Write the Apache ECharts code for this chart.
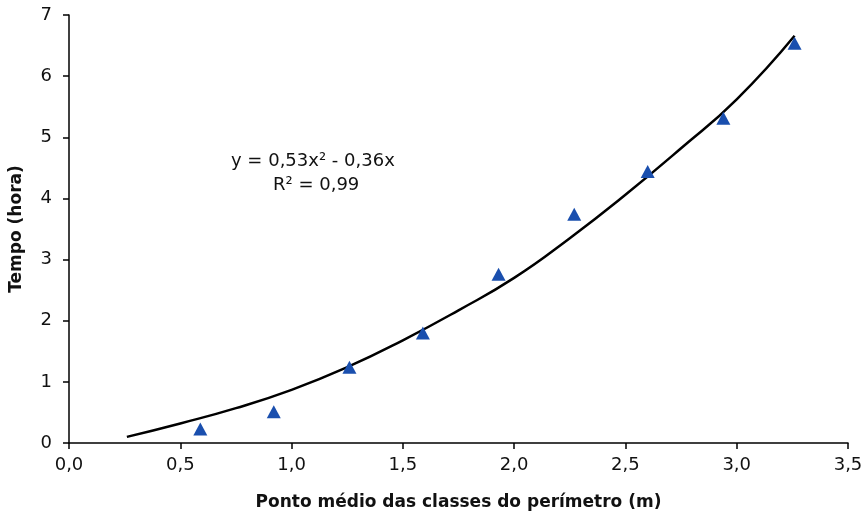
<!DOCTYPE html>
<html>
<head>
<meta charset="utf-8">
<script src="https://cdn.jsdelivr.net/npm/echarts@6/dist/echarts.min.js"></script>
<style>
  html, body { margin: 0; padding: 0; background: #fff; }
  #chart { width: 863px; height: 514px; }
</style>
</head>
<body>
<div id="chart"></div>
<script>
// observed points (ponto médio, tempo)
const pointX = [0.59, 0.92, 1.26, 1.59, 1.93, 2.27, 2.60, 2.94, 3.26];
const pointY = [0.23, 0.51, 1.24, 1.80, 2.76, 3.74, 4.44, 5.31, 6.54];

// trend line
const curveX = [0.26, 0.5, 0.75, 1.0, 1.25, 1.5, 1.75, 2.0, 2.25, 2.5, 2.75, 3.0, 3.26];
const curveY = [0.10, 0.32, 0.57, 0.87, 1.24, 1.68, 2.17, 2.70, 3.35, 4.06, 4.82, 5.62, 6.66];

const eqLine1 = 'y = 0,53x² - 0,36x';
const eqLine2 = 'R² = 0,99';

const chart = echarts.init(document.getElementById('chart'));

const font = 'DejaVu Sans, sans-serif';
const axisColor = '#000';

chart.setOption({
  animation: false,
  grid: { left: 69, right: 15, top: 15, bottom: 71, outerBoundsMode: 'none' },
  xAxis: {
    type: 'value',
    min: 0, max: 3.5, interval: 0.5,
    name: 'Ponto médio das classes do perímetro (m)',
    nameLocation: 'middle',
    nameGap: 51,
    nameTextStyle: { fontFamily: font, fontWeight: 'bold', fontSize: 17, color: '#111' },
    axisLine: { lineStyle: { color: axisColor, width: 1.5 } },
    axisTick: { length: 6, lineStyle: { color: axisColor, width: 1.5 } },
    axisLabel: {
      fontFamily: font, fontSize: 18, color: '#111', margin: 13,
      formatter: v => v.toFixed(1).replace('.', ',')
    },
    splitLine: { show: false }
  },
  yAxis: {
    type: 'value',
    min: 0, max: 7, interval: 1,
    name: 'Tempo (hora)',
    nameLocation: 'middle',
    nameGap: 44,
    nameTextStyle: { fontFamily: font, fontWeight: 'bold', fontSize: 17, color: '#111' },
    axisLine: { show: true, lineStyle: { color: axisColor, width: 1.5 } },
    axisTick: { show: true, length: 6, lineStyle: { color: axisColor, width: 1.5 } },
    axisLabel: { fontFamily: font, fontSize: 18, color: '#111', margin: 17 },
    splitLine: { show: false }
  },
  graphic: [
    {
      type: 'text', left: 231, top: 152,
      style: { text: eqLine1, font: '18px ' + font, fill: '#111' }
    },
    {
      type: 'text', left: 273, top: 176,
      style: { text: eqLine2, font: '18px ' + font, fill: '#111' }
    }
  ],
  series: [
    {
      type: 'line',
      data: curveX.map((x, i) => [x, curveY[i]]),
      smooth: true,
      symbol: 'none',
      lineStyle: { color: '#000', width: 2.5 },
      z: 2
    },
    {
      type: 'scatter',
      data: pointX.map((x, i) => [x, pointY[i]]),
      symbol: 'triangle',
      symbolSize: [14, 13],
      itemStyle: { color: '#1a4fae', opacity: 1 },
      z: 3
    }
  ]
});
</script>
</body>
</html>
